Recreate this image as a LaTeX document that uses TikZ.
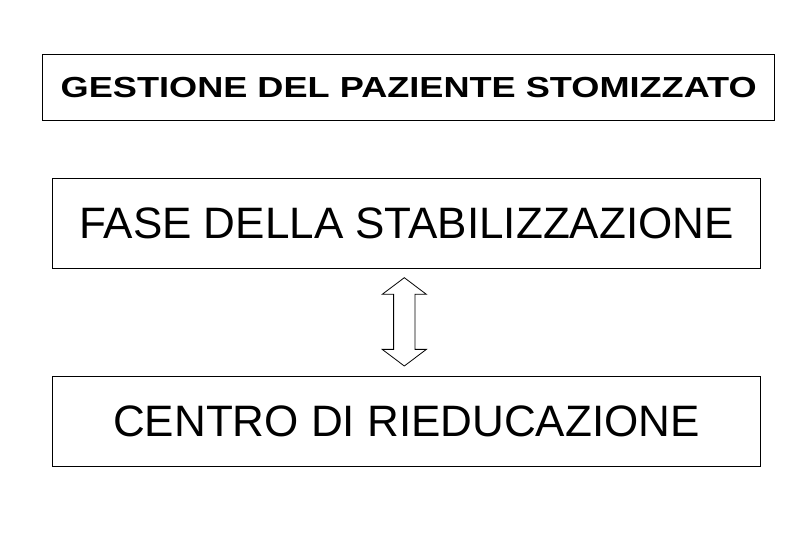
\documentclass[tikz,border=0pt]{standalone}
\usepackage{fontspec}
\setmainfont{Liberation Sans}
\usepackage{tikz}
\usetikzlibrary{shapes.arrows}

\begin{document}
\begin{tikzpicture}[x=1pt,y=1pt,
    box/.style={draw,line width=0.9pt,inner sep=0pt},
    titlebox/.style={box,font=\fontsize{29}{30}\selectfont\bfseries},
    phasebox/.style={box,font=\fontsize{44}{45}\selectfont},
    link/.style={double arrow,draw,line width=0.8pt,rotate=90,inner sep=0pt,inner ysep=10.3pt,
      minimum height=88.3pt,double arrow head extend=11.35pt,double arrow tip angle=106}]

    \useasboundingbox (0,0) rectangle (810,540);

    \node[titlebox,minimum width=732pt,minimum height=65.7pt] (gestione) at (408.7,452.85) {\scalebox{1.246}[1]{GESTIONE DEL PAZIENTE STOMIZZATO}};
    \node[phasebox,minimum width=708.4pt,minimum height=90pt] (fase) at (406.5,316.7) {FASE DELLA STABILIZZAZIONE};
    \node[phasebox,minimum width=708.4pt,minimum height=90pt] (centro) at (406.5,118.3) {CENTRO DI RIEDUCAZIONE};

    \node[link] (freccia) at (404.3,218.15) {};
  \end{tikzpicture}
\end{document}
